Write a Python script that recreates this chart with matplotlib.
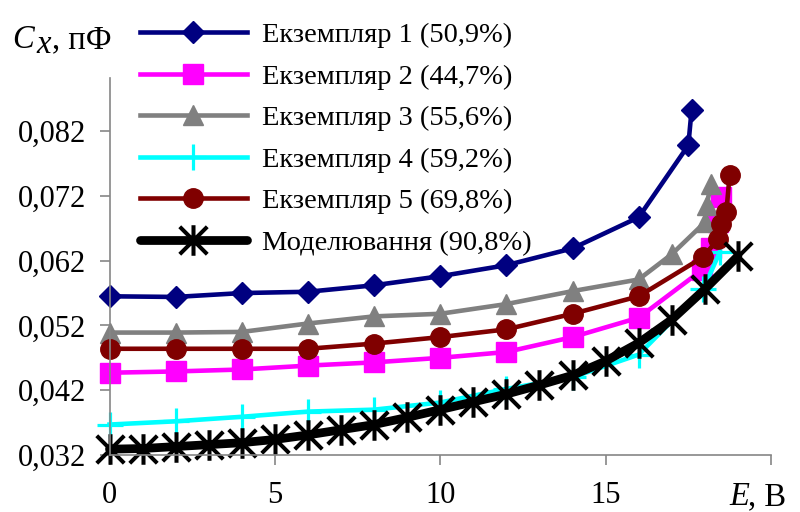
import matplotlib
matplotlib.use("Agg")
import matplotlib.pyplot as plt
from matplotlib.path import Path

plt.rcParams['font.family'] = ['Liberation Serif', 'DejaVu Serif']

# Measured capacitance vs. voltage for five samples and the model curve
e1 = [0, 2, 4, 6, 8, 10, 12, 14, 16, 17.5, 17.6]
c1 = [0.0565, 0.0564, 0.0570, 0.0572, 0.0582, 0.0596, 0.0613, 0.0639, 0.0687, 0.0798, 0.0853]

e2 = [0, 2, 4, 6, 8, 10, 12, 14, 16, 17.9, 18.2, 18.4, 18.5]
c2 = [0.0447, 0.0449, 0.0452, 0.0458, 0.0463, 0.0470, 0.0479, 0.0502, 0.0532, 0.0605, 0.0640, 0.0680, 0.0718]

e3 = [0, 2, 4, 6, 8, 10, 12, 14, 16, 17, 18, 18.05, 18.2]
c3 = [0.0509, 0.0509, 0.0510, 0.0523, 0.0534, 0.0538, 0.0553, 0.0573, 0.0591, 0.0630, 0.0679, 0.0706, 0.0739]

e4 = [0, 2, 4, 6, 8, 10, 12, 14, 16, 17.95, 18.45]
c4 = [0.0367, 0.0372, 0.0379, 0.0387, 0.0390, 0.0401, 0.0422, 0.0440, 0.0475, 0.0576, 0.0633]

e5 = [0, 2, 4, 6, 8, 10, 12, 14, 16, 17.93, 18.4, 18.5, 18.65, 18.75]
c5 = [0.0484, 0.0484, 0.0484, 0.0484, 0.0492, 0.0502, 0.0514, 0.0538, 0.0565, 0.0625, 0.0653, 0.0677, 0.0695, 0.0753]

e_model = [0, 1, 2, 3, 4, 5, 6, 7, 8, 9, 10, 11, 12, 13, 14, 15, 16, 17, 18, 19]
c_model = [0.0329, 0.0330, 0.0333, 0.0336, 0.0339, 0.0344, 0.0351, 0.0359, 0.0367, 0.0378,
           0.0390, 0.0402, 0.0414, 0.0428, 0.0443, 0.0465, 0.0493, 0.0529, 0.0576, 0.0627]

labels = ['Екземпляр 1 (50,9%)', 'Екземпляр 2 (44,7%)', 'Екземпляр 3 (55,6%)',
          'Екземпляр 4 (59,2%)', 'Екземпляр 5 (69,8%)', 'Моделювання (90,8%)']

y_ticks = [0.032, 0.042, 0.052, 0.062, 0.072, 0.082]
y_tick_labels = ['0,032', '0,042', '0,052', '0,062', '0,072', '0,082']
x_ticks = [0, 5, 10, 15, 20]
x_tick_labels = ['0', '5', '10', '15', '']

# asterisk: vertical stroke plus an X
star_path = Path([(0, -1), (0, 1), (-0.9, -0.9), (0.9, 0.9), (-0.9, 0.9), (0.9, -0.9)],
                 [Path.MOVETO, Path.LINETO, Path.MOVETO, Path.LINETO, Path.MOVETO, Path.LINETO])

fig = plt.figure(figsize=(8, 5.12), dpi=100)
ax = fig.add_axes([109.5 / 800, 57 / 512, (771 - 109.5) / 800, (455 - 78) / 512])

axis_gray = '#868686'
h = []
h += ax.plot(e1, c1, color='#000080', lw=3.3, marker='D', ms=11, mec='#000080', clip_on=False)
h += ax.plot(e2, c2, color='#FF00FF', lw=3.3, marker='s', ms=14, mec='#FF00FF', clip_on=False)
h += ax.plot(e3, c3, color='#808080', lw=3.3, marker='^', ms=14, mec='#808080', clip_on=False)
h += ax.plot(e4, c4, color='#00FFFF', lw=3.3, marker='+', ms=19, mew=2.3, clip_on=False)
h += ax.plot(e5, c5, color='#800000', lw=3.3, marker='o', ms=14, mec='#800000', clip_on=False)
h += ax.plot(e_model, c_model, color='black', lw=6.3, marker=star_path, ms=22, mew=2.9,
             solid_capstyle='round', clip_on=False)

ax.set_xlim(0, 20)
ax.set_ylim(0.032, 0.0902)
ax.set_xticks(x_ticks)
ax.set_xticklabels(x_tick_labels)
ax.set_yticks(y_ticks)
ax.set_yticklabels(y_tick_labels)

for side in ('top', 'right'):
    ax.spines[side].set_visible(False)
for side in ('left', 'bottom'):
    ax.spines[side].set_color(axis_gray)
    ax.spines[side].set_linewidth(1.2)

ax.tick_params(axis='y', direction='out', length=7, width=1.2, color=axis_gray,
               labelsize=22, pad=10)
ax.tick_params(axis='x', direction='out', length=7, width=1.2, color=axis_gray,
               labelsize=22, pad=12)

# axis titles
fs_title = 23.5
fig.text(12 / 800, 1 - 48 / 512, 'C', fontsize=fs_title, style='italic', va='baseline', ha='left')
fig.text(36 / 800, 1 - 53 / 512, 'x', fontsize=fs_title, style='italic', va='baseline', ha='left')
fig.text(52 / 800, 1 - 48 / 512, ', пФ', fontsize=fs_title, va='baseline', ha='left')

fig.text(729 / 800, 1 - 505 / 512, 'E', fontsize=fs_title, style='italic', va='baseline', ha='left')
fig.text(748 / 800, 1 - 505 / 512, ', В', fontsize=fs_title, va='baseline', ha='left')

fig.legend(h, labels, loc='upper left', bbox_to_anchor=(140 / 800, 1 - 22 / 512),
           frameon=False, fontsize=20.5, handlelength=3.75, handletextpad=0.53,
           labelspacing=0.55, borderpad=0, borderaxespad=0, numpoints=1)

fig.savefig('out.png', dpi=100)
